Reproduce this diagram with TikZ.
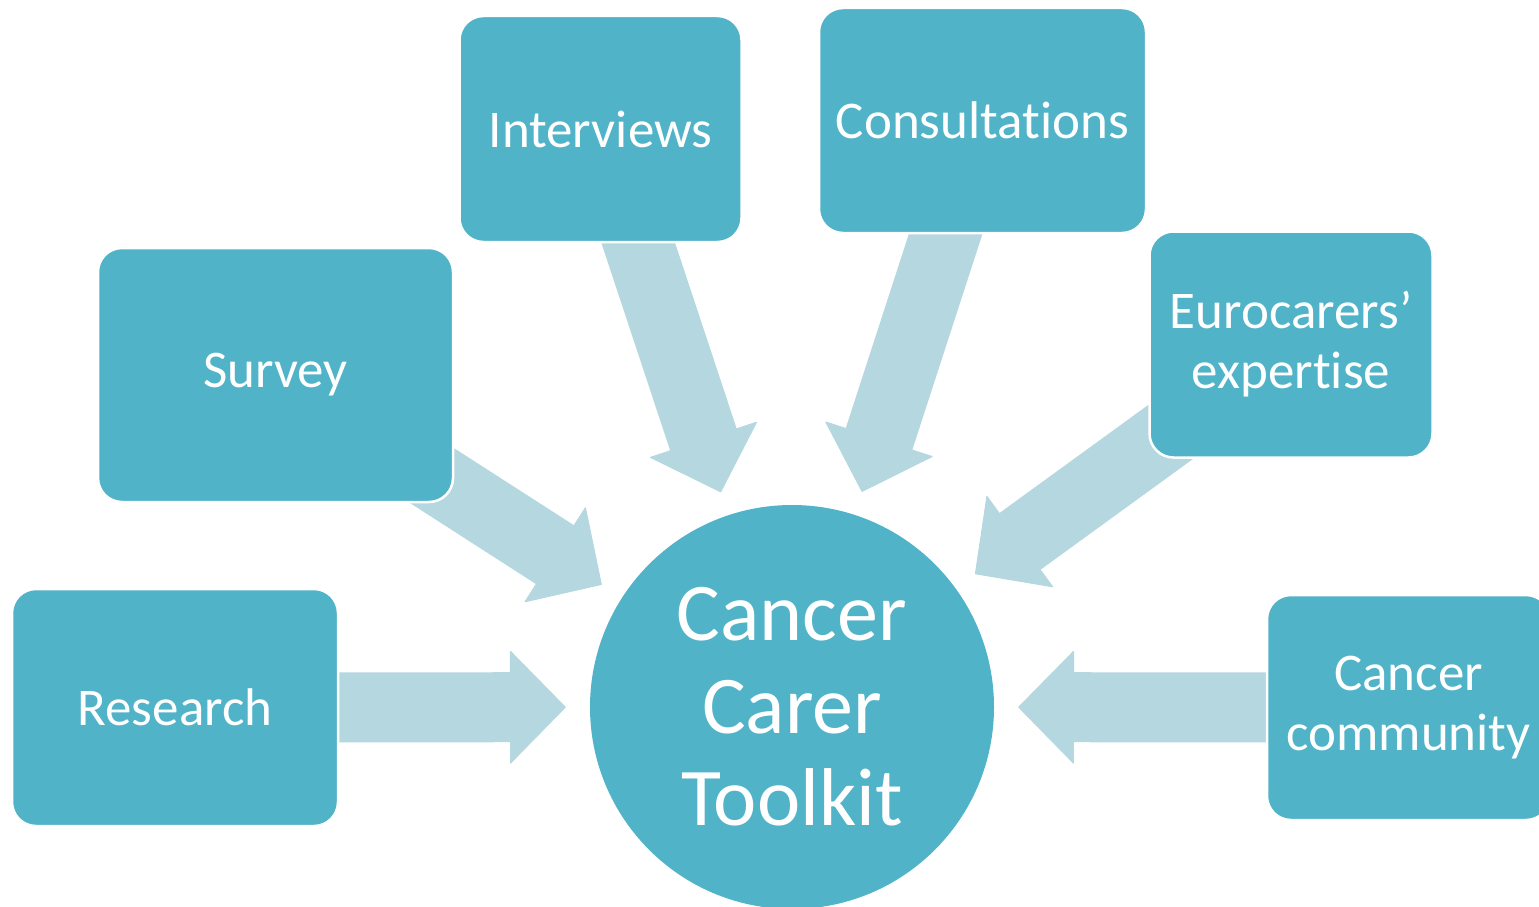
\documentclass[tikz,border=0pt]{standalone}
\usepackage{fontspec}
\setmainfont{Carlito}[Ligatures=NoCommon]
\usetikzlibrary{arrows.meta,backgrounds}
\definecolor{boxteal}{RGB}{80,179,200}
\definecolor{flowblue}{RGB}{181,215,224}
\tikzset{
	source/.style={rectangle, rounded corners=24pt, fill=boxteal, draw=white, line width=2.5pt,
		text=white, align=center, inner sep=0pt, font=\fontsize{53}{60}\selectfont},
	flow/.style={draw=flowblue, line width=70pt, shorten >=24pt,
		-{Triangle[width=114pt,length=56pt,line width=1pt,round]}}
}
\begin{document}
\begin{tikzpicture}[x=1pt,y=-1pt]
	\useasboundingbox (0,0) rectangle (1539,907);
	\node[circle, fill=boxteal, minimum size=404pt, inner sep=0pt, text=white, align=center,
		font=\fontsize{82}{92.5}\selectfont](toolkit) at (792,707) {Cancer\\Carer\\Toolkit};
	\node[source, minimum width=326pt, minimum height=237pt](research) at (175,707.5) {Research};
	\node[source, minimum width=355pt, minimum height=254pt](survey) at (275.5,375) {Survey};
	\node[source, minimum width=282pt, minimum height=226pt](interviews) at (600.5,129) {Interviews};
	\node[source, minimum width=327pt, minimum height=225pt](consultations) at (982.5,120.5) {Consultations};
	\node[source, minimum width=283pt, minimum height=226pt](eurocarers) at (1291,344.5) {Eurocarers’\\expertise};
	\node[source, minimum width=283pt, minimum height=225pt](community) at (1408.5,707.5) {Cancer\\community};
	%%% block arrows behind the boxes
	\begin{scope}[on background layer]
	\draw[flow] (research.center) -- (toolkit);
	\draw[flow] (survey.center) -- (toolkit);
	\draw[flow] (interviews.center) -- (toolkit);
	\draw[flow] (consultations.center) -- (toolkit);
	\draw[flow] (eurocarers.center) -- (toolkit);
	\draw[flow] (community.center) -- (toolkit);
	\end{scope}
\end{tikzpicture}
\end{document}
